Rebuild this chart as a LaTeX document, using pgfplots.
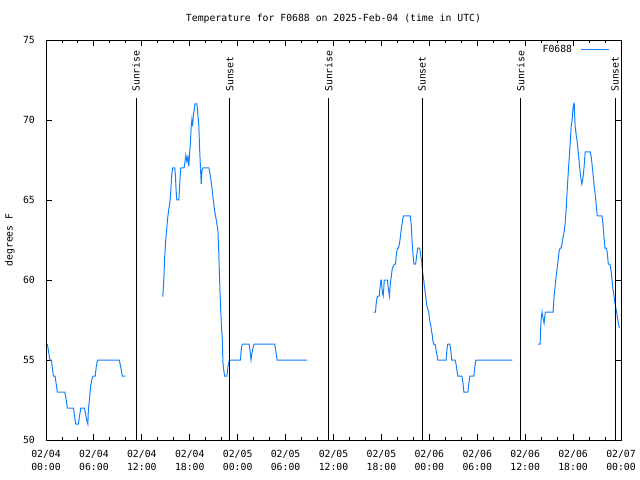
\documentclass[border=0pt]{standalone}
\usepackage{pgfplots}
\pgfplotsset{compat=1.18}
\usepackage{fontspec}
\setmainfont{DejaVu Sans Mono}
\definecolor{gpblue}{RGB}{16,128,255}
\begin{document}
\fontsize{9.8bp}{13bp}\selectfont
\begin{tikzpicture}
\useasboundingbox (-46bp,-40bp) rectangle (594bp,440bp);
\begin{axis}[
  scale only axis, width=575bp, height=400bp,
  xmin=0, xmax=72, ymin=50, ymax=75,
  axis line style={line width=0.9bp},
  tick style={black, line width=0.9bp},
  tick align=inside, tick pos=both,
  major tick length=6bp, minor tick length=3bp,
  xtick={0,6,...,72},
  xticklabels={{02/04\\00:00},{02/04\\06:00},{02/04\\12:00},{02/04\\18:00},{02/05\\00:00},{02/05\\06:00},{02/05\\12:00},{02/05\\18:00},{02/06\\00:00},{02/06\\06:00},{02/06\\12:00},{02/06\\18:00},{02/07\\00:00}},
  xticklabel style={align=center, inner sep=0pt, yshift=-10bp},
  minor x tick num=2,
  ytick={50,55,...,75},
  yticklabel style={inner sep=0pt, xshift=-11bp},
  /pgf/number format/assume math mode=true,
  legend style={draw=none, fill=none, at={(0.9797,0.975)}, anchor=east, inner sep=0pt, nodes={inner sep=0pt}, /tikz/every odd column/.append style={column sep=8bp}},
  legend plot pos=right,
  legend image code/.code={\draw[#1] (0bp,0bp) -- (28bp,0bp);},
  clip=false,
]
\addplot[gpblue, line width=1bp] coordinates {
(0.17,56) (0.3,55.6) (0.42,55.2) (0.5,55) (0.67,55) (0.8,54.5) (0.92,54) (1.13,54) (1.28,53.5) (1.42,53) (2.35,53) (2.5,52.6) (2.68,52) (3.44,52) (3.6,51.4) (3.73,51) (4.06,51) (4.2,51.5) (4.36,52) (4.82,52) (5.0,51.5) (5.12,51.2) (5.24,51) (5.3,51.8) (5.45,52.6) (5.6,53.4) (5.75,53.8) (5.9,54) (6.16,54) (6.3,54.6) (6.45,55) (9.17,55) (9.3,54.7) (9.45,54.3) (9.55,54) (9.93,54)
};
\addlegendentry{F0688}
\addplot[gpblue, line width=1bp, forget plot] coordinates {
(14.62,58.96) (14.75,60) (14.87,61.5) (14.99,62.5) (15.12,63.2) (15.24,63.9) (15.37,64.4) (15.5,64.8) (15.62,65.5) (15.75,66.6) (15.87,67) (16.12,67) (16.21,66.5) (16.29,65.6) (16.38,65) (16.63,65) (16.71,65.6) (16.8,66.5) (16.88,67) (17.3,67) (17.43,67.5) (17.51,67.8) (17.64,67.4) (17.76,67.7) (17.88,67.1) (18.01,68.1) (18.09,68.6) (18.18,69.6) (18.26,70) (18.35,69.6) (18.47,70.4) (18.56,70.6) (18.64,71) (18.89,71) (19.01,70.4) (19.14,69.6) (19.23,68.3) (19.35,66.9) (19.44,66) (19.52,66.8) (19.64,67) (20.4,67) (20.52,66.7) (20.65,66.25) (20.77,65.8) (20.9,65.2) (21.02,64.7) (21.15,64.2) (21.27,63.9) (21.4,63.5) (21.53,63.1) (21.65,61.5) (21.78,59.4) (21.86,58.3) (21.95,57.3) (22.08,56.25) (22.16,54.8) (22.28,54.27) (22.37,54) (22.66,54) (22.79,54.58) (22.87,54.8) (22.96,55) (24.34,55) (24.46,55.73) (24.59,56) (25.42,56) (25.55,55.6) (25.67,55) (25.75,55.3) (25.85,55.6) (26.05,56) (28.65,56) (28.82,55.42) (28.94,55) (32.71,55)
};
\addplot[gpblue, line width=1bp, forget plot] coordinates {
(41.0,58) (41.26,58) (41.34,58.5) (41.43,58.85) (41.55,59) (41.72,59) (41.8,59.4) (41.93,60) (42.0,60) (42.06,59.5) (42.13,59.2) (42.22,59) (42.3,59.5) (42.35,60) (42.76,60) (42.85,59.5) (43.01,59) (43.1,59.7) (43.23,60.2) (43.35,60.7) (43.52,60.9) (43.64,61) (43.77,61) (43.89,61.7) (44.02,62) (44.14,62) (44.27,62.3) (44.4,62.8) (44.52,63.3) (44.65,63.75) (44.77,64) (45.61,64) (45.74,63.4) (45.83,62.5) (45.95,61.6) (46.08,61) (46.29,61) (46.41,61.5) (46.54,62) (46.79,62) (46.91,61.6) (47.04,61.15) (47.16,60.5) (47.29,60) (47.41,59.5) (47.54,59) (47.66,58.5) (47.79,58.2) (47.92,58) (48.04,57.5) (48.17,57.2) (48.25,56.9) (48.38,56.5) (48.46,56.15) (48.55,56) (48.76,55.94) (48.84,55.6) (48.97,55.3) (49.05,55) (50.1,55) (50.22,55.73) (50.31,56) (50.56,56) (50.68,55.6) (50.81,55) (51.23,55) (51.36,54.7) (51.48,54.27) (51.57,54) (52.07,54) (52.19,53.65) (52.28,53.23) (52.32,53) (52.82,53) (52.95,53.54) (53.07,54) (53.57,54) (53.7,54.58) (53.82,55) (58.39,55)
};
\addplot[gpblue, line width=1bp, forget plot] coordinates {
(61.61,56) (61.87,56) (61.9,56.46) (61.99,57.5) (62.12,58) (62.2,57.7) (62.29,57.5) (62.37,57.3) (62.45,57.7) (62.54,58) (63.5,58) (63.62,59) (63.75,59.6) (63.87,60.2) (64.0,60.7) (64.13,61.25) (64.25,61.8) (64.38,62) (64.5,62) (64.63,62.3) (64.75,62.7) (64.88,63) (65.0,63.5) (65.13,64.4) (65.26,65.6) (65.38,66.6) (65.51,67.6) (65.63,68.5) (65.76,69.6) (65.88,70) (65.97,70.6) (66.06,71) (66.14,71.04) (66.18,70.5) (66.26,69.6) (66.39,69.06) (66.51,68.65) (66.64,68) (66.76,67.4) (66.85,66.9) (66.98,66.35) (67.1,66) (67.23,66.35) (67.35,66.9) (67.44,67.5) (67.52,68) (68.15,68) (68.27,67.7) (68.4,67.1) (68.52,66.5) (68.65,65.8) (68.78,65.3) (68.9,64.7) (69.03,64) (69.62,64) (69.74,63.5) (69.87,62.7) (69.99,62) (70.16,62) (70.28,61.7) (70.41,61) (70.62,61) (70.75,60.6) (70.87,60) (71.0,59.4) (71.12,59) (71.25,58.5) (71.42,58.1) (71.54,57.7) (71.67,57.3) (71.79,57)
};
% sunrise / sunset lines
\addplot[black, line width=1bp, forget plot] coordinates {(11.27,50) (11.27,71.375)};
\addplot[black, line width=1bp, forget plot] coordinates {(23.0,50) (23.0,71.375)};
\addplot[black, line width=1bp, forget plot] coordinates {(35.4,50) (35.4,71.375)};
\addplot[black, line width=1bp, forget plot] coordinates {(47.1,50) (47.1,71.375)};
\addplot[black, line width=1bp, forget plot] coordinates {(59.45,50) (59.45,71.375)};
\addplot[black, line width=1bp, forget plot] coordinates {(71.25,50) (71.25,71.375)};
\node[rotate=90, anchor=west, inner sep=0pt] at (axis cs:11.27,71.75) {Sunrise};
\node[rotate=90, anchor=west, inner sep=0pt] at (axis cs:23.0,71.75) {Sunset};
\node[rotate=90, anchor=west, inner sep=0pt] at (axis cs:35.4,71.75) {Sunrise};
\node[rotate=90, anchor=west, inner sep=0pt] at (axis cs:47.1,71.75) {Sunset};
\node[rotate=90, anchor=west, inner sep=0pt] at (axis cs:59.45,71.75) {Sunrise};
\node[rotate=90, anchor=west, inner sep=0pt] at (axis cs:71.25,71.75) {Sunset};
\node at ([yshift=21bp]rel axis cs:0.5,1) {Temperature for F0688 on 2025-Feb-04 (time in UTC)};
\node[rotate=90] at ([xshift=-36bp]rel axis cs:0,0.5) {degrees F};
\end{axis}
\end{tikzpicture}
\end{document}
